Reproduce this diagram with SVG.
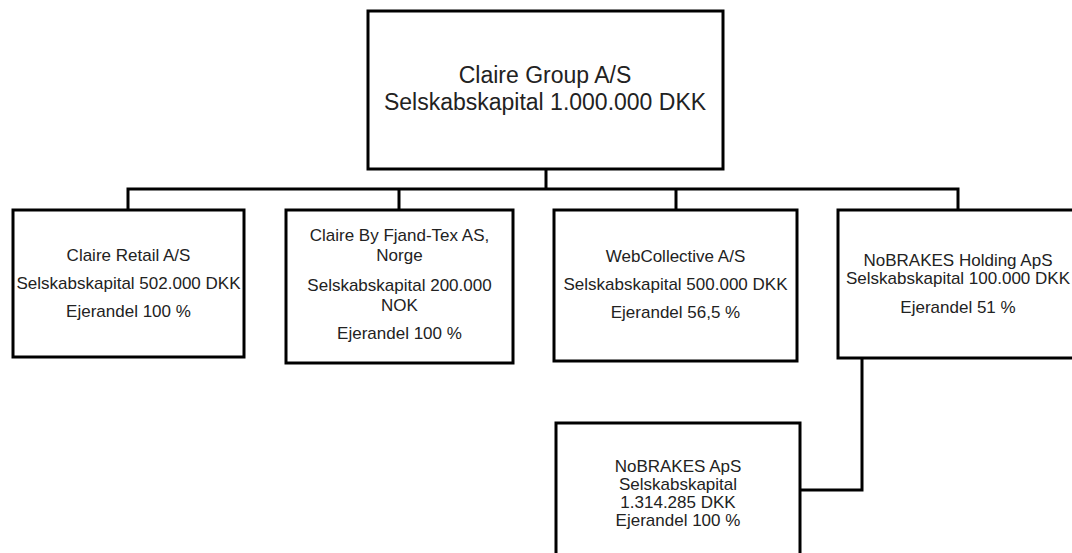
<svg xmlns="http://www.w3.org/2000/svg" width="1072" height="553" viewBox="0 0 1072 553">
<style>
.box{fill:#fff;stroke:#000;stroke-width:3}
.ln{fill:none;stroke:#000;stroke-width:3}
text{font-family:"Liberation Sans",Arial,sans-serif;fill:#222;text-anchor:middle}
.t{font-size:17px}
.big{font-size:23px}
</style>
<rect width="1072" height="553" fill="#fff"/>
<g id="connectors">
<path class="ln" d="M546,169 V189"/>
<path class="ln" d="M128,210 V189 H958 V210"/>
<path class="ln" d="M399,189 V210"/>
<path class="ln" d="M676,189 V210"/>
<path class="ln" d="M862,358 V490 H800"/>
</g>
<g id="claire-group">
<rect class="box" x="368" y="11" width="355" height="158"/>
<text class="big" x="545" y="83">Claire Group A/S</text>
<text class="big" x="545" y="110">Selskabskapital 1.000.000 DKK</text>
</g>
<g id="claire-retail">
<rect class="box" x="13" y="210" width="231" height="147"/>
<text class="t" x="128.5" y="261">Claire Retail A/S</text>
<text class="t" x="128.5" y="289">Selskabskapital 502.000 DKK</text>
<text class="t" x="128.5" y="317">Ejerandel 100 %</text>
</g>
<g id="fjand-tex">
<rect class="box" x="286" y="210" width="227" height="153"/>
<text class="t" x="399.5" y="241">Claire By Fjand-Tex AS,</text>
<text class="t" x="399.5" y="261">Norge</text>
<text class="t" x="399.5" y="291">Selskabskapital 200.000</text>
<text class="t" x="399.5" y="311">NOK</text>
<text class="t" x="399.5" y="339">Ejerandel 100 %</text>
</g>
<g id="webcollective">
<rect class="box" x="554" y="210" width="243" height="151"/>
<text class="t" x="675.5" y="262">WebCollective A/S</text>
<text class="t" x="675.5" y="290">Selskabskapital 500.000 DKK</text>
<text class="t" x="675.5" y="318">Ejerandel 56,5 %</text>
</g>
<g id="nobrakes-holding">
<rect class="box" x="838" y="210" width="242" height="148"/>
<text class="t" x="958" y="266">NoBRAKES Holding ApS</text>
<text class="t" x="958" y="284">Selskabskapital 100.000 DKK</text>
<text class="t" x="958" y="313">Ejerandel 51 %</text>
</g>
<g id="nobrakes-aps">
<rect class="box" x="556" y="423" width="244" height="140"/>
<text class="t" x="678" y="472">NoBRAKES ApS</text>
<text class="t" x="678" y="490">Selskabskapital</text>
<text class="t" x="678" y="508">1.314.285 DKK</text>
<text class="t" x="678" y="526">Ejerandel 100 %</text>
</g>
</svg>
